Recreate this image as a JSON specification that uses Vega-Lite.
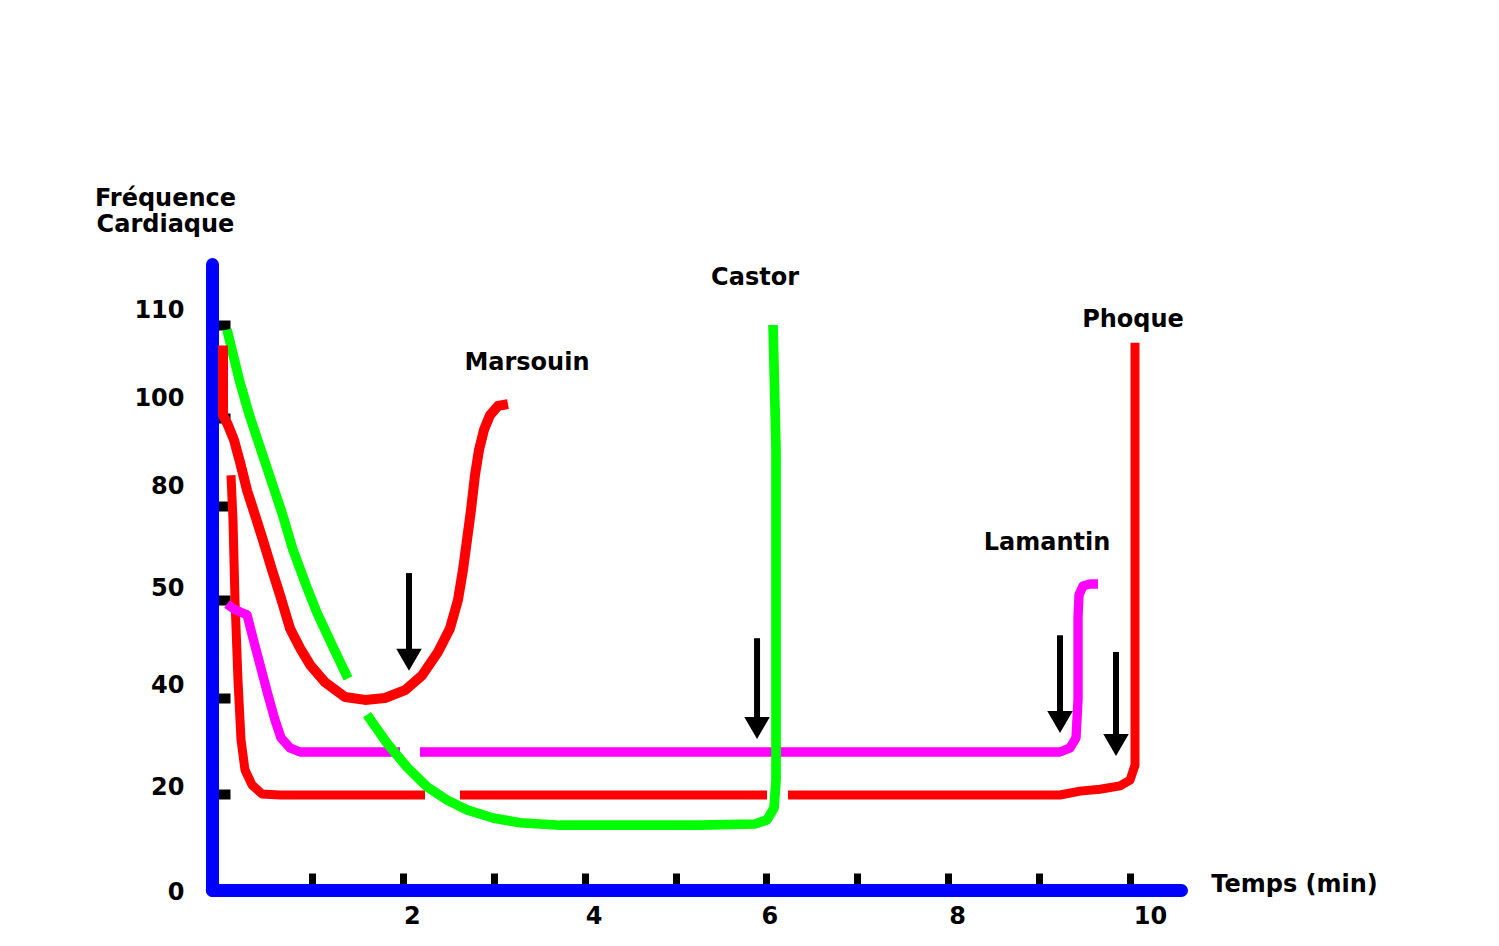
{
  "$schema": "https://vega.github.io/schema/vega-lite/v6.json",
  "width": 969,
  "height": 626,
  "autosize": "none",
  "padding": {"left": 212, "top": 264, "right": 318, "bottom": 56},
  "background": "white",
  "config": {"view": {"stroke": null}, "font": "DejaVu Sans"},
  "datasets": {
    "courbes": [
      {"animal": "Phoque", "segment": "P1", "ordre": 1, "temps": 0.110, "freq": 87.0},
      {"animal": "Phoque", "segment": "P1", "ordre": 2, "temps": 0.132, "freq": 75.5},
      {"animal": "Phoque", "segment": "P1", "ordre": 3, "temps": 0.154, "freq": 50.0},
      {"animal": "Phoque", "segment": "P1", "ordre": 4, "temps": 0.187, "freq": 41.8},
      {"animal": "Phoque", "segment": "P1", "ordre": 5, "temps": 0.220, "freq": 31.3},
      {"animal": "Phoque", "segment": "P1", "ordre": 6, "temps": 0.264, "freq": 25.0},
      {"animal": "Phoque", "segment": "P1", "ordre": 7, "temps": 0.341, "freq": 21.9},
      {"animal": "Phoque", "segment": "P1", "ordre": 8, "temps": 0.451, "freq": 20.0},
      {"animal": "Phoque", "segment": "P1", "ordre": 9, "temps": 0.649, "freq": 19.8},
      {"animal": "Phoque", "segment": "P1", "ordre": 10, "temps": 2.244, "freq": 19.8},
      {"animal": "Phoque", "segment": "P2", "ordre": 11, "temps": 2.629, "freq": 19.8},
      {"animal": "Phoque", "segment": "P2", "ordre": 12, "temps": 6.007, "freq": 19.8},
      {"animal": "Phoque", "segment": "P3", "ordre": 13, "temps": 6.238, "freq": 19.8},
      {"animal": "Phoque", "segment": "P3", "ordre": 14, "temps": 9.230, "freq": 19.8},
      {"animal": "Phoque", "segment": "P3", "ordre": 15, "temps": 9.450, "freq": 20.6},
      {"animal": "Phoque", "segment": "P3", "ordre": 16, "temps": 9.670, "freq": 21.0},
      {"animal": "Phoque", "segment": "P3", "ordre": 17, "temps": 9.890, "freq": 21.7},
      {"animal": "Phoque", "segment": "P3", "ordre": 18, "temps": 10.000, "freq": 22.9},
      {"animal": "Phoque", "segment": "P3", "ordre": 19, "temps": 10.055, "freq": 26.0},
      {"animal": "Phoque", "segment": "P3", "ordre": 20, "temps": 10.055, "freq": 108.1},

      {"animal": "Lamantin", "segment": "L1", "ordre": 1, "temps": 0.066, "freq": 49.6},
      {"animal": "Lamantin", "segment": "L1", "ordre": 2, "temps": 0.154, "freq": 49.0},
      {"animal": "Lamantin", "segment": "L1", "ordre": 3, "temps": 0.286, "freq": 48.5},
      {"animal": "Lamantin", "segment": "L1", "ordre": 4, "temps": 0.352, "freq": 46.1},
      {"animal": "Lamantin", "segment": "L1", "ordre": 5, "temps": 0.429, "freq": 43.4},
      {"animal": "Lamantin", "segment": "L1", "ordre": 6, "temps": 0.517, "freq": 40.3},
      {"animal": "Lamantin", "segment": "L1", "ordre": 7, "temps": 0.594, "freq": 35.4},
      {"animal": "Lamantin", "segment": "L1", "ordre": 8, "temps": 0.660, "freq": 31.7},
      {"animal": "Lamantin", "segment": "L1", "ordre": 9, "temps": 0.759, "freq": 29.6},
      {"animal": "Lamantin", "segment": "L1", "ordre": 10, "temps": 0.869, "freq": 28.75},
      {"animal": "Lamantin", "segment": "L1", "ordre": 11, "temps": 1.969, "freq": 28.75},
      {"animal": "Lamantin", "segment": "L2", "ordre": 12, "temps": 2.189, "freq": 28.75},
      {"animal": "Lamantin", "segment": "L2", "ordre": 13, "temps": 9.230, "freq": 28.75},
      {"animal": "Lamantin", "segment": "L2", "ordre": 14, "temps": 9.340, "freq": 29.6},
      {"animal": "Lamantin", "segment": "L2", "ordre": 15, "temps": 9.406, "freq": 31.7},
      {"animal": "Lamantin", "segment": "L2", "ordre": 16, "temps": 9.428, "freq": 39.6},
      {"animal": "Lamantin", "segment": "L2", "ordre": 17, "temps": 9.428, "freq": 48.2},
      {"animal": "Lamantin", "segment": "L2", "ordre": 18, "temps": 9.439, "freq": 51.6},
      {"animal": "Lamantin", "segment": "L2", "ordre": 19, "temps": 9.483, "freq": 54.5},
      {"animal": "Lamantin", "segment": "L2", "ordre": 20, "temps": 9.560, "freq": 55.1},
      {"animal": "Lamantin", "segment": "L2", "ordre": 21, "temps": 9.648, "freq": 55.1},

      {"animal": "Castor", "segment": "C1", "ordre": 1, "temps": 0.066, "freq": 109.5},
      {"animal": "Castor", "segment": "C1", "ordre": 2, "temps": 0.121, "freq": 107.3},
      {"animal": "Castor", "segment": "C1", "ordre": 3, "temps": 0.209, "freq": 103.8},
      {"animal": "Castor", "segment": "C1", "ordre": 4, "temps": 0.319, "freq": 100.1},
      {"animal": "Castor", "segment": "C1", "ordre": 5, "temps": 0.429, "freq": 93.4},
      {"animal": "Castor", "segment": "C1", "ordre": 6, "temps": 0.539, "freq": 86.6},
      {"animal": "Castor", "segment": "C1", "ordre": 7, "temps": 0.671, "freq": 77.8},
      {"animal": "Castor", "segment": "C1", "ordre": 8, "temps": 0.792, "freq": 66.0},
      {"animal": "Castor", "segment": "C1", "ordre": 9, "temps": 0.935, "freq": 54.8},
      {"animal": "Castor", "segment": "C1", "ordre": 10, "temps": 1.056, "freq": 48.7},
      {"animal": "Castor", "segment": "C1", "ordre": 11, "temps": 1.232, "freq": 45.2},
      {"animal": "Castor", "segment": "C1", "ordre": 12, "temps": 1.397, "freq": 42.0},
      {"animal": "Castor", "segment": "C2", "ordre": 13, "temps": 1.606, "freq": 36.5},
      {"animal": "Castor", "segment": "C2", "ordre": 14, "temps": 1.826, "freq": 30.6},
      {"animal": "Castor", "segment": "C2", "ordre": 15, "temps": 2.046, "freq": 25.6},
      {"animal": "Castor", "segment": "C2", "ordre": 16, "temps": 2.266, "freq": 21.5},
      {"animal": "Castor", "segment": "C2", "ordre": 17, "temps": 2.486, "freq": 18.75},
      {"animal": "Castor", "segment": "C2", "ordre": 18, "temps": 2.706, "freq": 16.7},
      {"animal": "Castor", "segment": "C2", "ordre": 19, "temps": 2.992, "freq": 15.0},
      {"animal": "Castor", "segment": "C2", "ordre": 20, "temps": 3.289, "freq": 14.0},
      {"animal": "Castor", "segment": "C2", "ordre": 21, "temps": 3.729, "freq": 13.5},
      {"animal": "Castor", "segment": "C2", "ordre": 22, "temps": 5.270, "freq": 13.5},
      {"animal": "Castor", "segment": "C2", "ordre": 23, "temps": 5.875, "freq": 13.75},
      {"animal": "Castor", "segment": "C2", "ordre": 24, "temps": 6.007, "freq": 14.6},
      {"animal": "Castor", "segment": "C2", "ordre": 25, "temps": 6.084, "freq": 17.1},
      {"animal": "Castor", "segment": "C2", "ordre": 26, "temps": 6.106, "freq": 22.9},
      {"animal": "Castor", "segment": "C2", "ordre": 27, "temps": 6.106, "freq": 92.7},
      {"animal": "Castor", "segment": "C2", "ordre": 28, "temps": 6.073, "freq": 110.0},

      {"animal": "Marsouin", "segment": "M1", "ordre": 1, "temps": 0.022, "freq": 107.8},
      {"animal": "Marsouin", "segment": "M1", "ordre": 2, "temps": 0.022, "freq": 100.3},
      {"animal": "Marsouin", "segment": "M1", "ordre": 3, "temps": 0.077, "freq": 98.4},
      {"animal": "Marsouin", "segment": "M1", "ordre": 4, "temps": 0.143, "freq": 95.0},
      {"animal": "Marsouin", "segment": "M1", "ordre": 5, "temps": 0.209, "freq": 90.0},
      {"animal": "Marsouin", "segment": "M1", "ordre": 6, "temps": 0.286, "freq": 83.6},
      {"animal": "Marsouin", "segment": "M1", "ordre": 7, "temps": 0.374, "freq": 77.1},
      {"animal": "Marsouin", "segment": "M1", "ordre": 8, "temps": 0.462, "freq": 69.1},
      {"animal": "Marsouin", "segment": "M1", "ordre": 9, "temps": 0.561, "freq": 59.6},
      {"animal": "Marsouin", "segment": "M1", "ordre": 10, "temps": 0.649, "freq": 51.6},
      {"animal": "Marsouin", "segment": "M1", "ordre": 11, "temps": 0.759, "freq": 47.1},
      {"animal": "Marsouin", "segment": "M1", "ordre": 12, "temps": 0.869, "freq": 45.1},
      {"animal": "Marsouin", "segment": "M1", "ordre": 13, "temps": 0.979, "freq": 43.4},
      {"animal": "Marsouin", "segment": "M1", "ordre": 14, "temps": 1.144, "freq": 41.6},
      {"animal": "Marsouin", "segment": "M1", "ordre": 15, "temps": 1.364, "freq": 40.1},
      {"animal": "Marsouin", "segment": "M1", "ordre": 16, "temps": 1.584, "freq": 39.6},
      {"animal": "Marsouin", "segment": "M1", "ordre": 17, "temps": 1.804, "freq": 40.0},
      {"animal": "Marsouin", "segment": "M1", "ordre": 18, "temps": 2.024, "freq": 40.8},
      {"animal": "Marsouin", "segment": "M1", "ordre": 19, "temps": 2.211, "freq": 42.3},
      {"animal": "Marsouin", "segment": "M1", "ordre": 20, "temps": 2.387, "freq": 44.7},
      {"animal": "Marsouin", "segment": "M1", "ordre": 21, "temps": 2.519, "freq": 47.1},
      {"animal": "Marsouin", "segment": "M1", "ordre": 22, "temps": 2.607, "freq": 50.0},
      {"animal": "Marsouin", "segment": "M1", "ordre": 23, "temps": 2.662, "freq": 59.6},
      {"animal": "Marsouin", "segment": "M1", "ordre": 24, "temps": 2.706, "freq": 69.1},
      {"animal": "Marsouin", "segment": "M1", "ordre": 25, "temps": 2.750, "freq": 78.7},
      {"animal": "Marsouin", "segment": "M1", "ordre": 26, "temps": 2.794, "freq": 87.0},
      {"animal": "Marsouin", "segment": "M1", "ordre": 27, "temps": 2.838, "freq": 92.7},
      {"animal": "Marsouin", "segment": "M1", "ordre": 28, "temps": 2.893, "freq": 97.3},
      {"animal": "Marsouin", "segment": "M1", "ordre": 29, "temps": 2.959, "freq": 100.3},
      {"animal": "Marsouin", "segment": "M1", "ordre": 30, "temps": 3.047, "freq": 101.3},
      {"animal": "Marsouin", "segment": "M1", "ordre": 31, "temps": 3.157, "freq": 101.5}
    ],
    "fleches": [
      {"temps": 2.068, "freq": 58.6, "tete": 43.9},
      {"temps": 5.897, "freq": 46.1, "tete": 33.75},
      {"temps": 9.230, "freq": 46.4, "tete": 35.0},
      {"temps": 9.846, "freq": 44.7, "tete": 30.2}
    ],
    "etiquettes": [
      {"nom": "Marsouin", "temps": 3.366, "freq": 105.9},
      {"nom": "Castor", "temps": 5.875, "freq": 115.05},
      {"nom": "Phoque", "temps": 10.033, "freq": 110.5},
      {"nom": "Lamantin", "temps": 9.087, "freq": 68.2}
    ]
  },
  "layer": [
    {
      "data": {"name": "courbes"},
      "mark": {"type": "line", "strokeJoin": "round", "clip": false},
      "encoding": {
        "x": {
          "field": "temps", "type": "quantitative",
          "scale": {"domain": [-0.099, 10.561], "nice": false, "zero": false},
          "axis": {
            "title": "Temps (min)",
            "values": [1, 2, 3, 4, 5, 6, 7, 8, 9, 10],
            "format": "d",
            "labelExpr": "datum.value % 2 === 0 ? datum.label : ''",
            "grid": false,
            "domainColor": "#0000FF", "domainWidth": 13, "domainCap": "round",
            "tickColor": "black", "tickWidth": 7, "tickSize": -17,
            "labelPadding": 43, "labelBaseline": "middle", "labelAlign": "center",
            "labelFont": "DejaVu Sans", "labelFontSize": 24, "labelFontWeight": "bold", "labelColor": "black",
            "labelFlush": false, "labelOverlap": false,
            "labelOffset": {"condition": [{"test": "datum.value === 10", "value": 20}, {"test": "datum.value === 6", "value": 3}], "value": 9},
            "titleX": 1082, "titleY": -6, "titleAlign": "center", "titleBaseline": "middle",
            "titleFont": "DejaVu Sans", "titleFontSize": 24, "titleFontWeight": "bold", "titleColor": "black"
          }
        },
        "y": {
          "field": "freq", "type": "quantitative",
          "scale": {"domain": [0, 20, 40, 50, 80, 100, 110, 116.56], "range": [626, 530, 434, 336, 242, 154, 61, 0], "nice": false, "zero": false},
          "axis": {
            "title": ["Fréquence", "Cardiaque"],
            "values": [0, 20, 40, 50, 80, 100, 110],
            "format": "d",
            "grid": false,
            "domainColor": "#0000FF", "domainWidth": 13, "domainCap": "round",
            "tickColor": {"condition": {"test": "datum.value === 0", "value": "transparent"}, "value": "black"},
            "tickWidth": 10, "tickSize": -18,
            "labelPadding": 46, "labelBaseline": "middle", "labelAlign": "right",
            "labelFont": "DejaVu Sans", "labelFontSize": 24, "labelFontWeight": "bold", "labelColor": "black",
            "labelFlush": false, "labelOverlap": false,
            "labelOffset": {"condition": [
              {"test": "datum.value === 0", "value": 2},
              {"test": "datum.value === 20", "value": -7},
              {"test": "datum.value === 40", "value": -13},
              {"test": "datum.value === 50", "value": -12},
              {"test": "datum.value === 110", "value": -15}
            ], "value": -20},
            "titleAngle": 0, "titleX": -47, "titleY": -78, "titleAlign": "center", "titleBaseline": "top", "titleLineHeight": 26,
            "titleFont": "DejaVu Sans", "titleFontSize": 24, "titleFontWeight": "bold", "titleColor": "black"
          }
        },
        "color": {
          "field": "animal", "type": "nominal",
          "scale": {"domain": ["Phoque", "Lamantin", "Castor", "Marsouin"], "range": ["#FF0000", "#FF00FF", "#00FF00", "#FF0000"]},
          "legend": null
        },
        "strokeWidth": {
          "field": "animal", "type": "nominal",
          "scale": {"domain": ["Phoque", "Lamantin", "Castor", "Marsouin"], "range": [9, 10, 9, 11]},
          "legend": null
        },
        "detail": {"field": "segment", "type": "nominal"},
        "order": {"field": "ordre", "type": "quantitative"}
      }
    },
    {
      "data": {"name": "fleches"},
      "mark": {"type": "rule", "color": "black", "strokeWidth": 6},
      "encoding": {
        "x": {"field": "temps", "type": "quantitative"},
        "y": {"field": "freq", "type": "quantitative"},
        "y2": {"field": "tete"}
      }
    },
    {
      "data": {"name": "fleches"},
      "mark": {"type": "point", "shape": "triangle-down", "filled": true, "color": "black", "opacity": 1, "size": 650},
      "encoding": {
        "x": {"field": "temps", "type": "quantitative"},
        "y": {"field": "tete", "type": "quantitative"}
      }
    },
    {
      "data": {"name": "etiquettes"},
      "mark": {"type": "text", "font": "DejaVu Sans", "fontSize": 24, "fontWeight": "bold", "color": "black", "align": "center", "baseline": "middle", "clip": false},
      "encoding": {
        "x": {"field": "temps", "type": "quantitative"},
        "y": {"field": "freq", "type": "quantitative"},
        "text": {"field": "nom", "type": "nominal"}
      }
    }
  ]
}
